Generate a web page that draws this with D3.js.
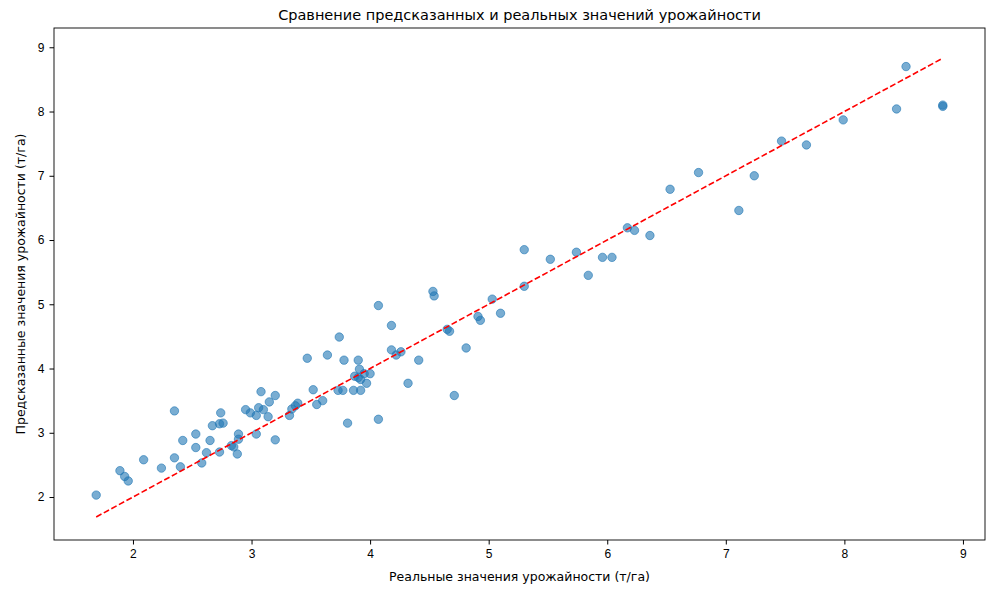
<!DOCTYPE html>
<html><head><meta charset="utf-8">
<script src="https://cdn.jsdelivr.net/npm/d3@7"></script>
<style>body{margin:0;background:#fff}svg{font-family:"DejaVu Sans",sans-serif}</style>
</head><body><svg id="chart" width="1000" height="600"></svg>
<script>
var realYield = [1.69,1.89,1.93,1.96,2.09,2.24,2.35,2.35,2.40,2.42,2.53,2.53,2.58,2.62,2.65,2.67,2.73,2.74,2.73,2.76,2.83,2.85,2.88,2.89,2.89,2.95,2.99,3.04,3.04,3.06,3.08,3.10,3.14,3.15,3.20,3.20,3.32,3.34,3.37,3.39,3.47,3.52,3.55,3.60,3.64,3.73,3.74,3.77,3.78,3.81,3.86,3.87,3.90,3.90,3.91,3.92,3.92,3.95,3.97,4.00,4.07,4.07,4.18,4.18,4.22,4.26,4.32,4.41,4.53,4.54,4.65,4.67,4.71,4.81,4.91,4.93,5.03,5.10,5.30,5.30,5.52,5.74,5.84,5.96,6.04,6.17,6.23,6.36,6.53,6.77,7.11,7.24,7.47,7.68,7.99,8.44,8.52,8.83,8.83];
var predYield = [2.03,2.41,2.32,2.25,2.58,2.45,3.34,2.61,2.47,2.88,2.98,2.77,2.53,2.69,2.88,3.11,2.70,3.31,3.14,3.15,2.80,2.78,2.67,2.98,2.90,3.36,3.31,2.98,3.27,3.39,3.64,3.36,3.25,3.48,2.89,3.58,3.27,3.37,3.42,3.46,4.16,3.67,3.44,3.50,4.21,3.66,4.49,3.66,4.13,3.15,3.66,3.88,4.13,3.86,3.99,3.83,3.66,3.92,3.77,3.92,4.98,3.21,4.67,4.29,4.21,4.26,3.77,4.13,5.20,5.13,4.61,4.58,3.58,4.32,4.81,4.75,5.08,4.86,5.85,5.28,5.70,5.81,5.45,5.73,5.73,6.19,6.15,6.07,6.79,7.05,6.46,7.00,7.54,7.48,7.87,8.04,8.70,8.08,8.10];
var xTicks = [2,3,4,5,6,7,8,9];
var yTicks = [2,3,4,5,6,7,8,9];

var svg = d3.select("#chart");
var L = 54, R = 985, T = 28, B = 540;
var x = d3.scaleLinear().domain([1.334, 9.186]).range([L, R]);
var y = d3.scaleLinear().domain([1.331, 9.30]).range([B, T]);

svg.append("g").attr("transform", "translate(0," + B + ")")
  .call(d3.axisBottom(x).tickValues(xTicks).tickFormat(d3.format("d")).tickSize(4.5).tickPadding(5))
  .call(function(g){ g.select(".domain").remove(); g.selectAll("text").attr("font-size", 12).attr("fill", "#000"); });
svg.append("g").attr("transform", "translate(" + L + ",0)")
  .call(d3.axisLeft(y).tickValues(yTicks).tickFormat(d3.format("d")).tickSize(4.5).tickPadding(5))
  .call(function(g){ g.select(".domain").remove(); g.selectAll("text").attr("font-size", 12).attr("fill", "#000"); });

svg.append("g").selectAll("circle").data(realYield).enter().append("circle")
  .attr("cx", function(d){ return x(d); })
  .attr("cy", function(d, i){ return y(predYield[i]); })
  .attr("r", 4.2)
  .attr("fill", "#1f77b4").attr("fill-opacity", 0.6)
  .attr("stroke", "#1f77b4").attr("stroke-opacity", 0.6);

var lo = d3.min(realYield), hi = d3.max(realYield);
svg.append("line")
  .attr("x1", x(lo)).attr("y1", y(lo)).attr("x2", x(hi)).attr("y2", y(hi))
  .attr("stroke", "red").attr("stroke-width", 1.6).attr("stroke-dasharray", "6,2.6");

svg.append("rect").attr("x", L).attr("y", T).attr("width", R - L).attr("height", B - T)
  .attr("fill", "none").attr("stroke", "#000").attr("stroke-width", 0.9);

svg.append("text").attr("x", (L + R) / 2).attr("y", 27 - 7).attr("text-anchor", "middle")
  .attr("font-size", 14.5).text("Сравнение предсказанных и реальных значений урожайности");
svg.append("text").attr("x", (L + R) / 2).attr("y", 581).attr("text-anchor", "middle")
  .attr("font-size", 12.5).text("Реальные значения урожайности (т/га)");
svg.append("text").attr("transform", "translate(25," + (T + B) / 2 + ") rotate(-90)").attr("text-anchor", "middle")
  .attr("font-size", 12.5).text("Предсказанные значения урожайности (т/га)");
</script></body></html>
